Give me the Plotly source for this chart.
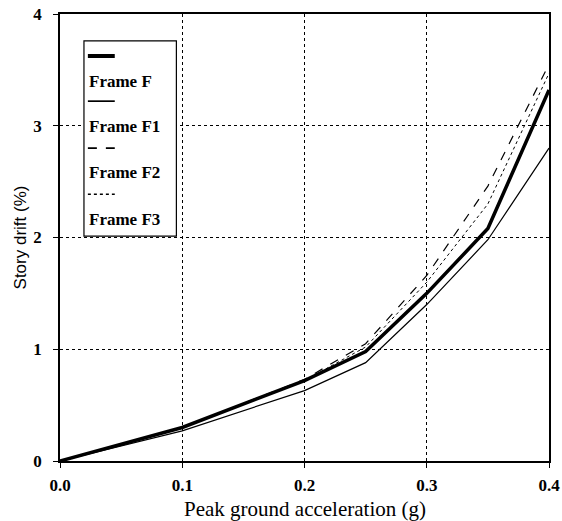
import plotly.graph_objects as go

pga = [0.0, 0.1, 0.2, 0.25, 0.3, 0.35, 0.4]
frame_f = [0.0, 0.30, 0.72, 0.98, 1.50, 2.08, 3.32]
frame_f1 = [0.0, 0.27, 0.63, 0.88, 1.40, 1.98, 2.80]
frame_f2 = [0.0, 0.30, 0.73, 1.05, 1.66, 2.46, 3.55]
frame_f3 = [0.0, 0.30, 0.72, 1.02, 1.60, 2.30, 3.47]

names = ["Frame F", "Frame F1", "Frame F2", "Frame F3"]
series = [frame_f, frame_f1, frame_f2, frame_f3]
widths = [3.5, 1.2, 1.2, 1.0]
dashes = ["solid", "solid", "dash", "dot"]

SERIF = "Liberation Serif"
SANS = "Liberation Sans"

fig = go.Figure()
for n, s, w, d in zip(names, series, widths, dashes):
    fig.add_trace(go.Scatter(x=pga, y=s, mode="lines", name=n,
                             line=dict(color="black", width=w, dash=d),
                             showlegend=False))

# custom legend (sample line above label, as in the original)
fig.add_shape(type="rect", xref="paper", yref="paper", x0=0.049, x1=0.238,
              y0=0.503, y1=0.94, fillcolor="white", line=dict(color="black", width=1.2),
              layer="above")
sample_y = [0.906, 0.805, 0.700, 0.597]
label_y = [0.849, 0.749, 0.645, 0.541]
for n, w, d, sy, ly in zip(names, widths, dashes, sample_y, label_y):
    fig.add_shape(type="line", xref="paper", yref="paper", x0=0.057, x1=0.112,
                  y0=sy, y1=sy, line=dict(color="black", width=w + 0.5, dash=d),
                  layer="above")
    fig.add_annotation(xref="paper", yref="paper", x=0.055, y=ly, text="<b>" + n + "</b>",
                       showarrow=False, xanchor="left", yanchor="middle",
                       font=dict(family=SERIF, size=17, color="black"))

# x-axis title (placed as text just below the tick labels)
fig.add_annotation(xref="paper", yref="paper", x=0.5, y=0, yshift=-48,
                   text="Peak ground acceleration (g)", showarrow=False,
                   xanchor="center", yanchor="middle",
                   font=dict(family=SERIF, size=21, color="black"))

axis_common = dict(showline=True, linecolor="black", linewidth=1.5, mirror=True,
                   showgrid=True, gridcolor="black", gridwidth=1.2, griddash="dot",
                   ticks="outside", ticklen=5, tickcolor="black", zeroline=False,
                   automargin=False,
                   tickfont=dict(family=SERIF, size=17, color="black"))

fig.update_xaxes(range=[0, 0.4], tickvals=[0.0, 0.1, 0.2, 0.3, 0.4],
                 ticktext=["<b>0.0</b>", "<b>0.1</b>", "<b>0.2</b>", "<b>0.3</b>", "<b>0.4</b>"],
                 ticklabelstandoff=3,
                 **axis_common)
fig.update_yaxes(range=[0, 4], tickvals=[0, 1, 2, 3, 4],
                 ticktext=["<b>0</b>", "<b>1</b>", "<b>2</b>", "<b>3</b>", "<b>4</b>"],
                 ticklabelstandoff=8,
                 title=dict(text="Story drift (%)", standoff=2,
                            font=dict(family=SANS, size=17, color="black")),
                 **axis_common)

fig.update_layout(width=562, height=521, plot_bgcolor="white", paper_bgcolor="white",
                  font=dict(family=SERIF, color="black"),
                  margin=dict(l=60, r=13, t=14, b=60))

fig.write_html("out.html")
